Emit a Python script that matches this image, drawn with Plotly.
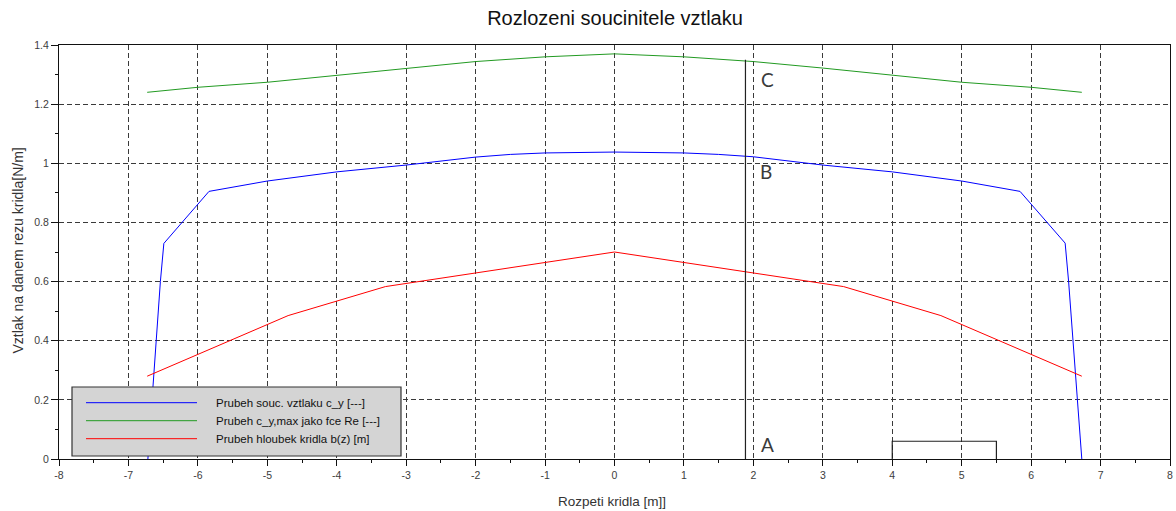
import plotly.graph_objects as go

# --- data ---------------------------------------------------------------
# lift coefficient distribution c_y along the span
span_cy = [-6.72, -6.65, -6.60, -6.54, -6.49, -5.84, -5.0, -4.0, -3.0, -2.0, -1.5, -1.0, 0.0,
           1.0, 1.5, 2.0, 3.0, 4.0, 5.0, 5.84, 6.49, 6.54, 6.60, 6.65, 6.73]
cy = [0.0, 0.25, 0.40, 0.60, 0.729, 0.905, 0.940, 0.971, 0.994, 1.021, 1.030, 1.035, 1.038,
      1.035, 1.030, 1.022, 0.994, 0.971, 0.940, 0.905, 0.730, 0.60, 0.40, 0.25, 0.0]

# maximum lift coefficient c_y,max as a function of Re
span_cymax = [-6.73, -6.0, -5.0, -4.0, -3.0, -2.0, -1.0, 0.0, 1.0, 2.0, 3.0, 4.0, 5.0, 6.0, 6.73]
cymax = [1.240, 1.257, 1.274, 1.298, 1.322, 1.344, 1.360, 1.370, 1.360, 1.344, 1.322, 1.298,
         1.274, 1.257, 1.240]

# wing chord b(z)
span_b = [-6.73, -4.7, -3.3, 0.0, 3.3, 4.7, 6.73]
chord_b = [0.28, 0.485, 0.583, 0.70, 0.583, 0.485, 0.28]

# critical section marker and small reference box
section_x = [1.886, 1.886]
section_y = [0.0, 1.35]
box_x = [4.0, 4.0, 5.5, 5.5]
box_y = [0.0, 0.06, 0.06, 0.0]

# point labels
label_text = ["A", "B", "C"]
label_x = [2.21, 2.18, 2.20]
label_y = [0.050, 0.972, 1.284]

legend_names = ["Prubeh souc. vztlaku c_y [---]",
                "Prubeh c_y,max jako fce Re [---]",
                "Prubeh hloubek kridla b(z) [m]"]
colors = ["#0000ff", "#229a22", "#ff0000"]

x_ticks = list(range(-8, 9))
y_ticks = [0, 0.2, 0.4, 0.6, 0.8, 1.0, 1.2, 1.4]

# --- figure -------------------------------------------------------------
W, H = 1176, 511
ML, MR, MT, MB = 59, 6, 45, 52
PW, PH = W - ML - MR, H - MT - MB

fig = go.Figure()
for xs, ys, c in [(span_cy, cy, colors[0]), (span_cymax, cymax, colors[1]), (span_b, chord_b, colors[2])]:
    fig.add_trace(go.Scatter(x=xs, y=ys, mode="lines", line=dict(color=c, width=1),
                             showlegend=False, hoverinfo="skip"))

fig.add_trace(go.Scatter(x=section_x, y=section_y, mode="lines",
                         line=dict(color="#222222", width=1.2), showlegend=False))
fig.add_trace(go.Scatter(x=box_x, y=box_y, mode="lines",
                         line=dict(color="#222222", width=1.2), showlegend=False))

for t, lx, ly in zip(label_text, label_x, label_y):
    fig.add_annotation(x=lx, y=ly, xref="x", yref="y", text=t, showarrow=False,
                       font=dict(family="Lato, Open Sans, sans-serif", size=19, color="#3a3a3a"),
                       xanchor="center", yanchor="middle")

grid_dash = "5px,3px"
tick_font = dict(family="Liberation Sans, Arial, sans-serif", size=10.5, color="#3c3c3c")

fig.update_layout(
    width=W, height=H,
    margin=dict(l=ML, r=MR, t=MT, b=MB, autoexpand=False),
    paper_bgcolor="white", plot_bgcolor="white",
    showlegend=False,
    title=dict(text="Rozlozeni soucinitele vztlaku", x=(615 - ML) / PW, xref="paper",
               y=1 - 18 / H, yref="container", xanchor="center", yanchor="middle",
               font=dict(family="Liberation Sans, Arial, sans-serif", size=20, color="#111111")),
    xaxis=dict(range=[-8, 8], tickmode="array", tickvals=x_ticks,
               ticktext=[str(v) for v in x_ticks], automargin=False,
               showgrid=True, gridcolor="#3a3a3a", gridwidth=1, griddash=grid_dash,
               zeroline=False, showline=True, linecolor="#111111", linewidth=1, mirror=True,
               ticks="outside", ticklen=6, tickcolor="#111111", tickfont=tick_font,
               minor=dict(dtick=0.5, ticks="outside", ticklen=3, tickcolor="#111111", showgrid=False)),
    xaxis2=dict(range=[-8, 8], overlaying="x", side="top", tickmode="array", tickvals=x_ticks,
                showticklabels=False, showgrid=False, zeroline=False, automargin=False,
                ticks="inside", ticklen=5, tickcolor="#111111"),
    yaxis=dict(range=[0, 1.4], tickmode="array", tickvals=y_ticks,
               ticktext=["0", "0.2", "0.4", "0.6", "0.8", "1", "1.2", "1.4"], automargin=False,
               showgrid=True, gridcolor="#3a3a3a", gridwidth=1, griddash=grid_dash,
               zeroline=False, showline=True, linecolor="#111111", linewidth=1, mirror=True,
               ticks="outside", ticklen=7, tickcolor="#111111", tickfont=tick_font,
               minor=dict(dtick=0.1, ticks="outside", ticklen=3, tickcolor="#111111", showgrid=False)),
)

# axis titles
fig.add_annotation(text="Rozpeti kridla [m]]", xref="paper", yref="paper",
                   x=(612 - ML) / PW, y=(459 - 501) / PH, xanchor="center", yanchor="middle",
                   showarrow=False,
                   font=dict(family="Liberation Sans, Arial, sans-serif", size=13.5, color="#333333"))
fig.add_annotation(text="Vztlak na danem rezu kridla[N/m]", xref="paper", yref="paper",
                   x=(17.5 - ML) / PW, y=(459 - 251) / PH, xanchor="center", yanchor="middle",
                   textangle=-90, showarrow=False,
                   font=dict(family="Liberation Sans, Arial, sans-serif", size=14, color="#333333"))

# legend box drawn in paper coordinates
def px_x(p):
    return (p - ML) / PW

def px_y(p):
    return (H - MB - p) / PH

fig.add_shape(type="rect", xref="paper", yref="paper",
              x0=px_x(72), x1=px_x(401), y0=px_y(456), y1=px_y(387),
              fillcolor="#d4d4d4", line=dict(color="#333333", width=1.2), layer="above")
for i, (name, c) in enumerate(zip(legend_names, colors)):
    yy = px_y(402.7 + i * 18)
    fig.add_shape(type="line", xref="paper", yref="paper",
                  x0=px_x(86), x1=px_x(197), y0=yy, y1=yy,
                  line=dict(color=c, width=1), layer="above")
    fig.add_annotation(text=name, xref="paper", yref="paper", x=px_x(214), y=yy,
                       xanchor="left", yanchor="middle", showarrow=False,
                       font=dict(family="Liberation Sans, Arial, sans-serif", size=11.5, color="#111111"))

fig.write_html("out.html")
